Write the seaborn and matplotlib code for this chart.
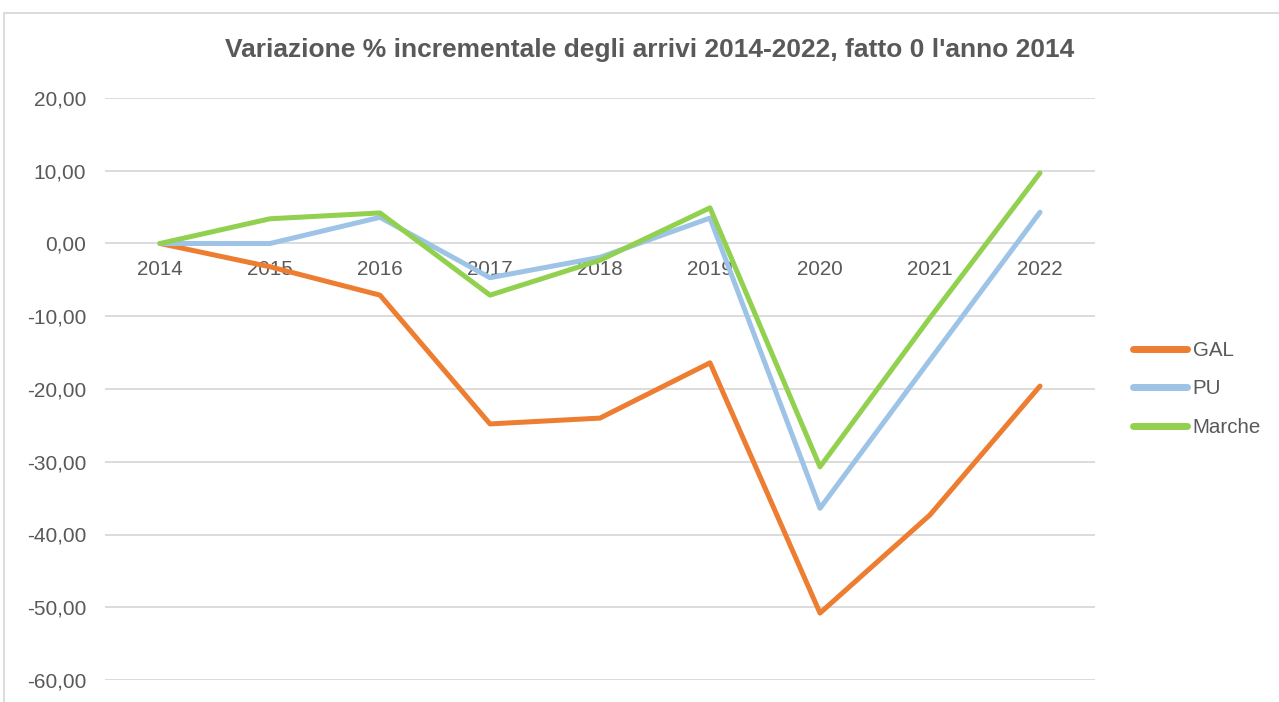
import matplotlib
matplotlib.use("Agg")
import matplotlib.pyplot as plt
import seaborn as sns
import pandas as pd
from matplotlib.patches import Rectangle

years = ["2014", "2015", "2016", "2017", "2018", "2019", "2020", "2021", "2022"]
gal = [0.0, -3.2, -7.1, -24.8, -24.0, -16.4, -50.8, -37.3, -19.6]
pu = [0.0, 0.0, 3.6, -4.7, -1.9, 3.5, -36.4, -16.0, 4.3]
marche = [0.0, 3.4, 4.2, -7.1, -2.3, 4.9, -30.7, -10.2, 9.7]
series_names = ["GAL", "PU", "Marche"]
colors = ["#ED7D31", "#9DC3E6", "#92D050"]
yticks = [20, 10, 0, -10, -20, -30, -40, -50, -60]
title = "Variazione % incrementale degli arrivi 2014-2022, fatto 0 l'anno 2014"

rows = []
for name, vals in zip(series_names, [gal, pu, marche]):
    for yr, v in zip(years, vals):
        rows.append({"Anno": yr, "Valore": v, "Serie": name})
df = pd.DataFrame(rows)

sns.set_theme(style="white")
plt.rcParams["font.family"] = ["Liberation Sans", "DejaVu Sans"]
text_color = "#595959"

fig = plt.figure(figsize=(12.79, 7.02), dpi=100)
ax = fig.add_axes([105 / 1279, 1 - 680 / 702, (1095 - 105) / 1279, (680 - 98) / 702])

sns.lineplot(data=df, x="Anno", y="Valore", hue="Serie", hue_order=series_names,
             palette=colors, linewidth=3.6, ax=ax, sort=False, zorder=3,
             solid_joinstyle="round", solid_capstyle="round")

ax.set_xlim(-0.5, 8.5)
ax.set_ylim(-60, 20)
ax.set_yticks(yticks)
ax.set_yticklabels([f"{t:.2f}".replace(".", ",") for t in yticks])
ax.yaxis.grid(True, color="#D9D9D9", linewidth=1.3)
ax.xaxis.grid(False)
ax.set_axisbelow(True)
for s in ["top", "right", "left"]:
    ax.spines[s].set_visible(False)
ax.spines["bottom"].set_position(("data", 0))
ax.spines["bottom"].set_visible(False)
ax.tick_params(axis="x", length=0, pad=12, labelsize=14.8, colors=text_color)
ax.tick_params(axis="y", length=0, pad=13.5, labelsize=15, colors=text_color)
ax.set_xlabel("")
ax.set_ylabel("")

leg = ax.legend(loc="center left", bbox_to_anchor=(1133 / 1279, 1 - 389 / 702),
                bbox_transform=fig.transFigure, frameon=False, fontsize=14.8,
                handlelength=2.65, handletextpad=0.25, labelspacing=0.95,
                borderpad=0, borderaxespad=0)
for t in leg.get_texts():
    t.set_color(text_color)
for h in leg.get_lines():
    h.set_linewidth(5)
    h.set_solid_capstyle("round")

fig.text(650 / 1279, 1 - 50 / 702, title, ha="center", va="center",
         fontsize=19, fontweight="bold", color=text_color)

fig.patches.append(Rectangle((4 / 1279, -0.1), 1.2, 1.1 - 13 / 702,
                             transform=fig.transFigure, fill=False,
                             edgecolor="#D9D9D9", linewidth=1.3, zorder=-1))

fig.savefig("out.png", dpi=100)
